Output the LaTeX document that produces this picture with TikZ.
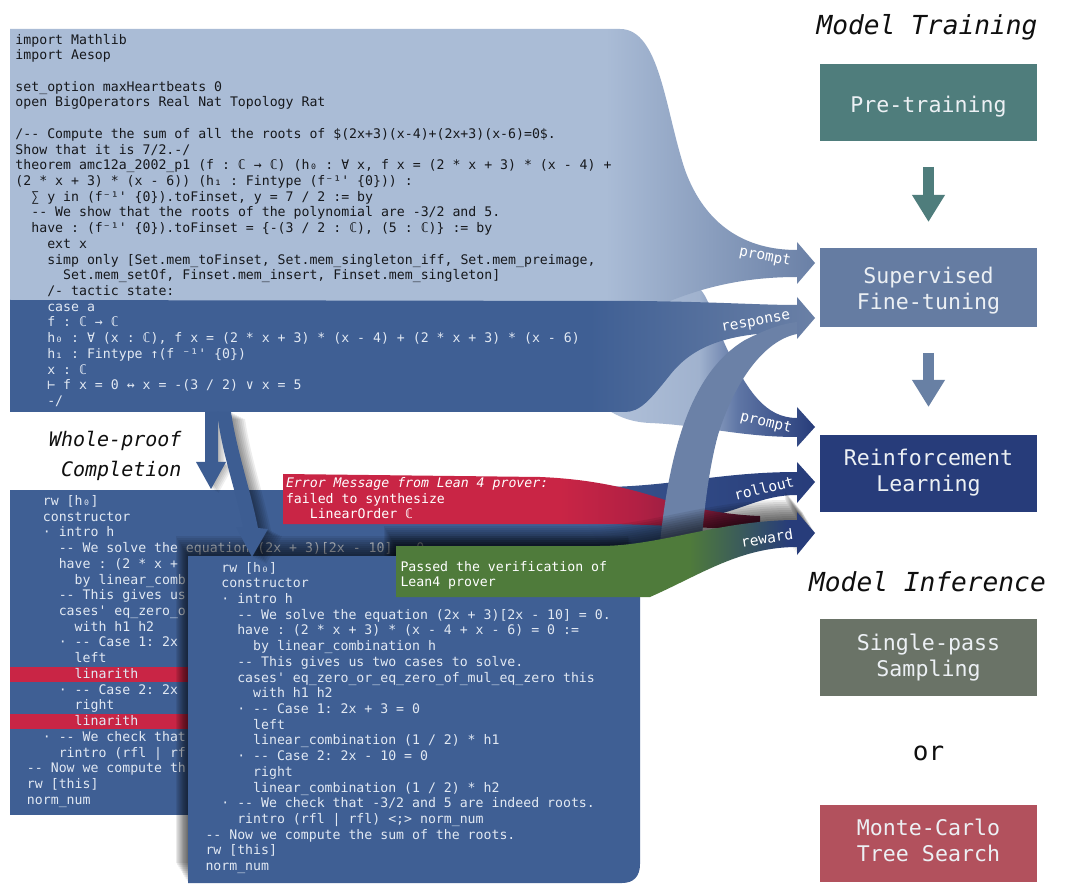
\documentclass[tikz,border=0pt]{standalone}
\usepackage{fontspec}
\setmonofont{DejaVu Sans Mono}
\usetikzlibrary{arrows.meta}

\definecolor{lightblk}{RGB}{170,188,214}
\definecolor{darkblk}{RGB}{63,95,148}
\definecolor{sftmid}{RGB}{106,128,166}
\definecolor{navy}{RGB}{39,60,122}
\definecolor{bLa}{RGB}{178,194,218}
\definecolor{bLb}{RGB}{160,178,206}
\definecolor{bMid}{RGB}{95,118,165}
\definecolor{errred}{RGB}{201,37,69}
\definecolor{redDark}{RGB}{178,32,68}
\definecolor{maroon}{RGB}{105,28,60}
\definecolor{okgreen}{RGB}{79,123,59}
\definecolor{rollL}{RGB}{60,90,145}
\definecolor{midband}{RGB}{107,129,167}
\definecolor{arrblue}{RGB}{61,93,146}
\definecolor{cPre}{RGB}{79,125,124}
\definecolor{cSFT}{RGB}{101,124,162}
\definecolor{cRL}{RGB}{39,60,122}
\definecolor{cSPS}{RGB}{106,115,103}
\definecolor{cMCTS}{RGB}{178,81,93}
\definecolor{arrSFT}{RGB}{104,128,164}
\definecolor{codeblack}{RGB}{22,24,28}
\definecolor{codewhite}{RGB}{226,233,243}
\definecolor{boxtext}{RGB}{236,240,244}
\definecolor{titleblack}{RGB}{15,15,15}

\pgfdeclarehorizontalshading{shA}{100bp}{color(0bp)=(lightblk); color(62bp)=(lightblk); color(75bp)=(sftmid); color(100bp)=(sftmid)}
\pgfdeclarehorizontalshading{shD}{100bp}{color(0bp)=(darkblk); color(61bp)=(darkblk); color(75bp)=(sftmid); color(100bp)=(sftmid)}
\pgfdeclarehorizontalshading{shB}{100bp}{color(0bp)=(bLa); color(25bp)=(bLa); color(48bp)=(bLb); color(57bp)=(bMid); color(75bp)=(navy); color(100bp)=(navy)}
\pgfdeclarehorizontalshading{shRed}{100bp}{color(0bp)=(errred); color(54bp)=(errred); color(62bp)=(redDark); color(75bp)=(maroon); color(100bp)=(maroon)}
\pgfdeclarehorizontalshading{shG}{100bp}{color(0bp)=(okgreen); color(60bp)=(okgreen); color(72bp)=(navy); color(100bp)=(navy)}

\newcommand\codeind[1]{\hspace*{\dimexpr 0.6021em*#1\relax}}
\newcommand\tightlines{\lineskiplimit=-1000pt\relax}

\def\pathSA{(205,412) -- (218,412) -- (218,462) -- (226,462) -- (211,489) -- (196,462) -- (205,462) -- cycle}
\def\pathCA{(217,412) .. controls (222,455) and (236,490) .. (243,527) -- (236,527) -- (252,557) -- (268,529) -- (258,528) .. controls (250,488) and (237,452) .. (231,412) -- cycle}
\def\pathBtwo{(188,556) -- (640,556) -- (640,864) .. controls (640,876) and (634,883) .. (622,883) -- (188,883) -- cycle}
\def\pathG{(396,546) -- (600,546) .. controls (660,546) and (720,520) .. (797,520) -- (797,512) -- (815,533) -- (797,555) -- (797,547) .. controls (740,547) and (700,575) .. (650,597) -- (396,597) -- cycle}

\begin{document}
\begin{tikzpicture}[x=1pt,y=-1pt,
  every node/.style={inner sep=0pt, outer sep=0pt},
  codetxt/.style={font={\ttfamily\fontsize{13.2}{15.72}\selectfont\tightlines}, align=left, anchor=north west},
  stagebox/.style={minimum width=217pt, minimum height=77pt, draw=none},
  boxtxt/.style={font={\ttfamily\fontsize{21.6}{26.7}\selectfont\tightlines}, align=center, text=boxtext},
  ttl/.style={font={\ttfamily\itshape\fontsize{26.2}{30}\selectfont}, text=titleblack, anchor=base},
  lbl/.style={font={\ttfamily\fontsize{14.5}{16}\selectfont}, text=white},
  conn/.style={line width=11pt, shorten <=26pt, -{Triangle[width=31pt,length=27pt]}},
]
\useasboundingbox (0,0) rectangle (1080,885);
\fill[white] (0,0) rectangle (1080,885);

% ribbon prompt -> RL (behind the prompt block)
\shade[shading=shB] (600,283) -- (688,283) .. controls (708,283) and (712,320) .. (730,355) .. controls (748,390) and (765,418) .. (797,418) -- (797,407) -- (815,427) -- (797,447) -- (797,437) .. controls (740,437) and (700,425) .. (650,423) .. controls (628,422) and (615,415) .. (600,405) -- cycle;
% ---------- prompt block and ribbon to SFT ----------
\shade[shading=shA] (10,29) -- (620,29) .. controls (660,29) and (665,110) .. (685,170) .. controls (705,225) and (745,250) .. (797,250) -- (797,242) -- (815,263) -- (797,284) -- (797,277) .. controls (745,277) and (705,287) .. (670,301) -- (10,301) -- cycle;
% tactic state block and response ribbon
\shade[shading=shD] (10,300) -- (640,301) .. controls (720,302) and (760,305) .. (797,305) -- (797,297) -- (815,318) -- (797,339) -- (797,332) .. controls (720,332) and (690,350) .. (670,375) .. controls (650,400) and (640,412) .. (625,412) -- (10,412) -- cycle;

\node[codetxt, text=codeblack] (promptcode) at (15.5,31) {\rule{0pt}{13pt}import Mathlib\\
import Aesop\\
\mbox{}\\
set\_option maxHeartbeats 0\\
open BigOperators Real Nat Topology Rat\\
\mbox{}\\
/-- Compute the sum of all the roots of \$(2x+3)(x-4)+(2x+3)(x-6)=0\$.\\
Show that it is 7/2.-/\\
theorem amc12a\_2002\_p1 (f : ℂ → ℂ) (h₀ : ∀ x, f x = (2 * x + 3) * (x - 4) +\\
(2 * x + 3) * (x - 6)) (h₁ : Fintype (f⁻¹' \{0\})) :\\
\codeind{2}∑ y in (f⁻¹' \{0\}).toFinset, y = 7 / 2 := by\\
\codeind{2}-- We show that the roots of the polynomial are -3/2 and 5.\\
\codeind{2}have : (f⁻¹' \{0\}).toFinset = \{-(3 / 2 : ℂ), (5 : ℂ)\} := by\\
\codeind{4}ext x\\
\codeind{4}simp only [Set.mem\_toFinset, Set.mem\_singleton\_iff, Set.mem\_preimage,\\
\codeind{6}Set.mem\_setOf, Finset.mem\_insert, Finset.mem\_singleton]\\
\codeind{4}/- tactic state:};

\node[codetxt, text=codewhite] (statecode) at (15.5,298.2) {\rule{0pt}{13pt}\codeind{4}case a\\
\codeind{4}f : ℂ → ℂ\\
\codeind{4}h₀ : ∀ (x : ℂ), f x = (2 * x + 3) * (x - 4) + (2 * x + 3) * (x - 6)\\
\codeind{4}h₁ : Fintype ↑(f ⁻¹' \{0\})\\
\codeind{4}x : ℂ\\
\codeind{4}⊢ f x = 0 ↔ x = -(3 / 2) ∨ x = 5\\
\codeind{4}-/};

% ---------- first proof attempt ----------
\fill[darkblk] (10,490) rectangle (600,815);
\fill[darkblk] (595,490) rectangle (700,556);
\fill[errred] (10,666.5) rectangle (188,682);
\fill[errred] (10,713.6) rectangle (188,729.2);
\node[codetxt, text=codewhite] (proofA) at (27,492.5) {\rule{0pt}{13pt}\codeind{2}rw [h₀]\\
\codeind{2}constructor\\
\codeind{2}· intro h\\
\codeind{4}-- We solve the equation (2x + 3)[2x - 10] = 0.\\
\codeind{4}have : (2 * x +\\
\codeind{6}by linear\_comb\\
\codeind{4}-- This gives us\\
\codeind{4}cases' eq\_zero\_o\\
\codeind{6}with h1 h2\\
\codeind{4}· -- Case 1: 2x\\
\codeind{6}left\\
\codeind{6}linarith\\
\codeind{4}· -- Case 2: 2x\\
\codeind{6}right\\
\codeind{6}linarith\\
\codeind{2}· -- We check that\\
\codeind{4}rintro (rfl | rf\\
-- Now we compute th\\
rw [this]\\
norm\_num};

% rollout ribbon
\shade[left color=rollL, right color=navy] (540,488) -- (600,487) .. controls (670,487) and (720,472) .. (797,472) -- (797,462) -- (815,482) -- (797,503) -- (797,495) .. controls (760,495) and (740,512) .. (700,518) -- (540,520) -- cycle;
% error message
\shade[shading=shRed] (283,474) -- (540,477) .. controls (590,479) and (630,488) .. (665,500) .. controls (700,510) and (730,515) .. (760,516) -- (760,530) .. controls (700,528) and (650,524) .. (600,524) -- (283,524) -- cycle;
\node[codetxt, text=white] (errmsg) at (286,474.5) {\rule{0pt}{13pt}\textit{Error Message from Lean 4 prover:}\\
failed to synthesize\\
\codeind{3}LinearOrder ℂ};

% verified proof -> SFT response
\fill[midband] (658,565) .. controls (668,440) and (695,370) .. (745,340) .. controls (765,330) and (780,324) .. (797,322) -- (797,334) .. controls (765,340) and (735,380) .. (718,435) .. controls (707,475) and (702,530) .. (700,565) -- cycle;

% straight arrow
\foreach \i in {1,...,5} {\fill[black, opacity=.06, shift={(1.5*\i,0.8*\i)}] \pathSA;}
\fill[arrblue] \pathSA;

% shadows of second proof and pass ribbon
\foreach \i in {1,...,10} {
  \fill[black, opacity=.08, shift={(-1.2*\i,-2*\i)}] \pathBtwo;
  \fill[black, opacity=.08, shift={(-1.2*\i,-2*\i)}] \pathG;
}
\fill[darkblk] \pathBtwo;
\node[codetxt, text=codewhite] (proofB) at (205.5,559) {\rule{0pt}{13pt}\codeind{2}rw [h₀]\\
\codeind{2}constructor\\
\codeind{2}· intro h\\
\codeind{4}-- We solve the equation (2x + 3)[2x - 10] = 0.\\
\codeind{4}have : (2 * x + 3) * (x - 4 + x - 6) = 0 :=\\
\codeind{6}by linear\_combination h\\
\codeind{4}-- This gives us two cases to solve.\\
\codeind{4}cases' eq\_zero\_or\_eq\_zero\_of\_mul\_eq\_zero this\\
\codeind{6}with h1 h2\\
\codeind{4}· -- Case 1: 2x + 3 = 0\\
\codeind{6}left\\
\codeind{6}linear\_combination (1 / 2) * h1\\
\codeind{4}· -- Case 2: 2x - 10 = 0\\
\codeind{6}right\\
\codeind{6}linear\_combination (1 / 2) * h2\\
\codeind{2}· -- We check that -3/2 and 5 are indeed roots.\\
\codeind{4}rintro (rfl | rfl) <;> norm\_num\\
-- Now we compute the sum of the roots.\\
rw [this]\\
norm\_num};

\shade[shading=shG] \pathG;
\node[codetxt, text=white] (passmsg) at (400.5,558) {\rule{0pt}{13pt}Passed the verification of\\
Lean4 prover};

% curved arrow
\foreach \i in {1,...,7} {\fill[black, opacity=.07, shift={(2*\i,1*\i)}] \pathCA;}
\fill[arrblue] \pathCA;

\node[font={\ttfamily\itshape\fontsize{20}{30}\selectfont\tightlines}, align=right, anchor=north east, text=titleblack] (wpc) at (181.5,430) {\rule{0pt}{16pt}Whole-proof\\Completion};

% ribbon labels
\node[lbl, rotate=-11] (lp1) at (765,257) {prompt};
\node[lbl, rotate=10] (lr1) at (756,323) {response};
\node[lbl, rotate=-14] (lp2) at (766,423) {prompt};
\node[lbl, rotate=14] (lro) at (764,488) {rollout};
\node[lbl, rotate=9] (lrw) at (767,538) {reward};

% ---------- right column ----------
\node[ttl] (mt) at (927,35) {Model Training};
\node[stagebox, fill=cPre] (pre) at (928.5,102.5) {};
\node[boxtxt, anchor=base] (preT) at (928.5,112.5) {Pre-training};
\node[stagebox, fill=cSFT, minimum height=79pt] (sft) at (928.5,287.5) {};
\node[boxtxt, anchor=north] (sftT) at (928.5,266.3) {\rule{0pt}{17pt}Supervised\\Fine-tuning};
\node[stagebox, fill=cRL] (rl) at (928.5,473.5) {};
\node[boxtxt, anchor=north] (rlT) at (928.5,448) {\rule{0pt}{17pt}Reinforcement\\Learning};
\draw[conn, cPre, shorten >=26pt] (pre.south) -- (sft.north);
\draw[conn, arrSFT, shorten >=28pt] (sft.south) -- (rl.north);

\node[ttl] (mi) at (927.5,591.5) {Model Inference};
\node[stagebox, fill=cSPS] (sps) at (928.5,657.5) {};
\node[boxtxt, anchor=north] (spsT) at (928.5,633) {\rule{0pt}{17pt}Single-pass\\Sampling};
\node[font={\ttfamily\fontsize{26}{30}\selectfont}, text=titleblack, anchor=base] (ortxt) at (928.5,760.5) {or};
\node[stagebox, fill=cMCTS] (mcts) at (928.5,843.5) {};
\node[boxtxt, anchor=north] (mctsT) at (928.5,818) {\rule{0pt}{17pt}Monte-Carlo\\Tree Search};
\end{tikzpicture}
\end{document}
